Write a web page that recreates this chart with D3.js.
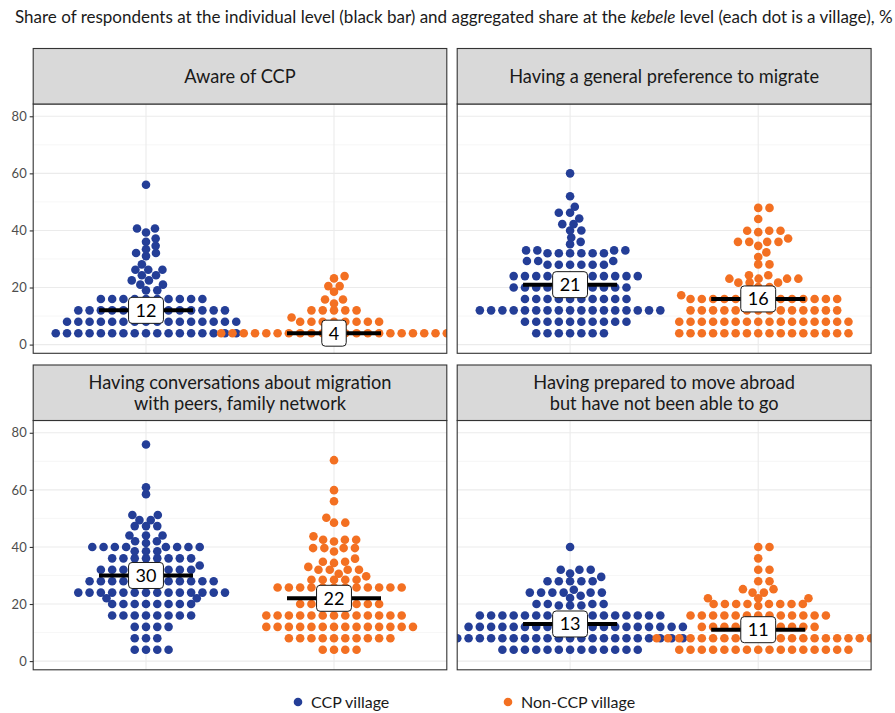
<!DOCTYPE html>
<html>
<head>
<meta charset="utf-8">
<script src="https://cdn.jsdelivr.net/npm/d3@7"></script>
<style>
  body { margin: 0; background: #ffffff; }
  svg { display: block; }
  text { font-family: Lato, "Open Sans", "DejaVu Sans", sans-serif; }
</style>
</head>
<body>
<svg id="chart" width="895" height="713"></svg>
<script>
// ---- data -------------------------------------------------------------
const groups = ["CCP village", "Non-CCP village"];
const groupColors = ["#243e97", "#f37022"];
const panelTitles = [
  ["Aware of CCP"],
  ["Having a general preference to migrate"],
  ["Having conversations about migration", "with peers, family network"],
  ["Having prepared to move abroad", "but have not been able to go"]
];
const yTicks = [0, 20, 40, 60, 80];
const yMinorTicks = [10, 30, 50, 70];
// share at the individual level (black bar), per panel: [CCP, Non-CCP]
const individualShare = [[12, 4], [21, 16], [30, 22], [13, 11]];

// village-level shares (%), one value per village
const awareCcp = [
  4,4,4,4,4,4,4,4,4,4,4,4,4,4,4,4,4,
  8,8,8,8,8,8,8,8,8,8,8,8,8,8,8,8,
  12,12,12,12,12,12,12,12,12,12,12,12,12,12,
  16,16,16,16,16,16,16,16,16,16,
  19,19,21,21,22.5,22.5,24.3,24.3,26.2,26.2,26.2,28.1,31,32.1,32.1,
  33.4,34.6,36,37.2,39.3,40.7,40.7,56
];
const awareNonCcp = [
  4,4,4,4,4,4,4,4,4,4,4,4,4,4,4,4,4,4,4,4,4,
  8,8,8,8,8,8,8,8,9.5,
  12,12,12,12,12,14.4,15.8,15.8,18.5,20.5,20.5,23.2,24
];
const preferCcp = [
  4,4,4,4,4,4,4,
  8,8,8,8,8,8,8,8,8,8,
  12,12,12,12,12,12,12,12,12,12,12,12,12,12,12,12,12,
  16,16,16,16,16,16,16,16,16,16,
  20,20,20,20,20,20,20,20,20,20,20,
  24,24,24,24,24,24,24,24,24,24,24,24,
  28,28,28,28,28,28,29.3,29.3,29.3,
  32,32,32,32,32,32,33,33,33,33,
  35.2,36,37.5,40,40,42.2,42.2,44.2,46.2,46.2,48.3,52,60
];
const preferNonCcp = [
  4,4,4,4,4,4,4,4,4,4,4,4,4,4,4,4,
  8,8,8,8,8,8,8,8,8,8,8,8,8,8,8,8,
  12,12,12,12,12,12,12,12,12,12,12,12,12,12,
  16,16,16,16,16,16,16,16,16,16,16,16,16,16,17.3,
  20.2,20.2,21.7,21.7,21.7,23.1,23.1,23.1,23.1,24.3,24.3,
  28.1,28.1,30.7,32.3,34.6,36,36,36,36,37.2,39.4,39.9,39.9,39.9,44,47.9,47.9
];
const talkCcp = [
  4,4,4,4,
  8,8,8,
  12,12,12,12,
  16,16,16,16,16,16,16,16,
  20,20,20,20,20,20,20,20,22,22,
  24,24,24,24,24,24,24,24,24,24,24,24,24,24,
  28,28,28,28,28,28,28,28,28,28,28,28,
  32,32,32,32,32,32,32,32,32,33.5,
  36,36,36,36,36,36,36,36,38.5,38.5,38.5,
  40,40,40,40,40,40,40,40,41.4,
  42,42,44,44,44,47.3,47.3,47.3,49.4,49.4,51.2,51.2,58.5,60.9,75.9
];
const talkNonCcp = [
  4,4,4,4,
  8,8,8,8,8,8,8,8,8,8,
  12,12,12,12,12,12,12,12,12,12,12,12,12,12,
  16,16,16,16,16,16,16,16,16,16,16,16,16,
  20,20,20,20,20,20,20,20,
  25.8,25.8,25.8,25.8,25.8,25.8,25.8,25.8,25.8,25.8,25.8,25.8,
  28.5,28.5,28.5,28.5,28.5,29.7,30.6,32,32,32,32,33,34.4,34.8,34.8,35.9,
  38.4,39.6,39.6,39.6,39.6,41.9,42.5,42.5,42.5,43.7,48.5,48.5,50.2,56,59.9,70.4
];
const prepareCcp = [
  4,4,4,4,4,4,4,4,4,4,4,4,4,
  8,8,8,8,8,8,8,8,8,8,8,8,8,8,8,8,8,8,8,8,8,
  12,12,12,12,12,12,12,12,12,12,12,12,12,12,12,12,12,12,12,12,
  16,16,16,16,16,16,16,16,16,16,16,16,16,16,16,16,16,
  19.5,19.5,19.5,20,20,20,20,22.1,22.9,
  24,24,24,24,24,24,25,28,28,28,28,28,29.5,30.7,32,32,32,40
];
const prepareNonCcp = [
  4,4,4,4,4,4,4,4,4,4,4,4,4,4,4,4,
  8,8,8,8,8,8,8,8,8,8,8,8,8,8,8,8,8,8,8,8,
  12,12,12,12,12,12,12,12,12,12,12,
  16,16,16,16,16,16,16,16,16,16,16,16,16,
  19.3,20,20,20,20,20,20,20,20,
  22,22,22,24,24,25.2,25.2,28,28,32,32,36,40,40
];

const panelValues = [
  [awareCcp, awareNonCcp],
  [preferCcp, preferNonCcp],
  [talkCcp, talkNonCcp],
  [prepareCcp, prepareNonCcp]
];

// ---- layout -------------------------------------------------------------
const svg = d3.select("#chart");
const colX = [[33.2, 446.8], [457.2, 871.1]];
const rowStrip = [[48.5, 104], [365, 420.5]];
const rowPanel = [[104, 353.3], [420.5, 669.8]];
const yDomain = [-3.05, 84.3];

const dotR = 4.3;
const swarmDx = 11.28;   // horizontal spacing of tied points
const swarmDy = 6.6;     // vertical reach of a point in the swarm

// beeswarm placement: ascending order, each point at the closest free offset
function swarm(values, y) {
  const pts = values.map((v, i) => ({ v, i, py: y(v) }))
    .sort((a, b) => a.v - b.v || a.i - b.i);
  const placed = [];
  for (const p of pts) {
    const near = placed.filter(q => Math.abs(q.py - p.py) < swarmDy);
    const offs = near.map(q => swarmDx * Math.sqrt(1 - ((q.py - p.py) / swarmDy) ** 2));
    const cands = [0]
      .concat(near.map((q, k) => q.off + offs[k]))
      .concat(near.map((q, k) => q.off - offs[k]));
    let best = null;
    for (const c of cands) {
      if (best !== null && Math.abs(c) >= Math.abs(best) - 1e-9) continue;
      const free = near.every(q =>
        ((q.off - c) / swarmDx) ** 2 + ((q.py - p.py) / swarmDy) ** 2 >= 1 - 1e-6);
      if (free) best = c;
    }
    p.off = best;
    placed.push(p);
  }
  return pts;
}

// title
const title = svg.append("text")
  .attr("x", 15).attr("y", 23)
  .attr("font-size", 14.5).attr("fill", "#1a1a1a");
title.append("tspan").text("Share of respondents at the individual level (black bar) and aggregated share at the ");
title.append("tspan").attr("font-style", "italic").text("kebele");
title.append("tspan").text(" level (each dot is a village), %");
{
  const w = title.node().getComputedTextLength();
  title.attr("font-size", 14.5 * 878 / w);
}

// strip font size fitted on the longest single-line label
const probe = svg.append("text").attr("font-size", 17).text(panelTitles[1][0]);
const stripFont = 17 * 310 / probe.node().getComputedTextLength();
probe.remove();

const defs = svg.append("defs");

panelValues.forEach((vals, p) => {
  const r = Math.floor(p / 2), c = p % 2;
  const [x0, x1] = colX[c];
  const [py0, py1] = rowPanel[r];
  const [sy0, sy1] = rowStrip[r];

  const x = d3.scalePoint().domain(groups).range([x0, x1]).padding(0.6);
  const y = d3.scaleLinear().domain(yDomain).range([py1, py0]);

  const g = svg.append("g");

  // panel background and grid
  g.append("rect").attr("x", x0).attr("y", py0).attr("width", x1 - x0).attr("height", py1 - py0)
    .attr("fill", "#ffffff");
  g.selectAll(".minor").data(yMinorTicks).join("line")
    .attr("x1", x0).attr("x2", x1).attr("y1", d => y(d)).attr("y2", d => y(d))
    .attr("stroke", "#f0f0f0").attr("stroke-width", 0.6);
  g.selectAll(".major").data(yTicks).join("line")
    .attr("x1", x0).attr("x2", x1).attr("y1", d => y(d)).attr("y2", d => y(d))
    .attr("stroke", "#ebebeb").attr("stroke-width", 1.1);
  g.selectAll(".vgrid").data(groups).join("line")
    .attr("x1", d => x(d)).attr("x2", d => x(d)).attr("y1", py0).attr("y2", py1)
    .attr("stroke", "#ebebeb").attr("stroke-width", 1.1);

  // dots, clipped to the panel
  const clipId = "clip" + p;
  defs.append("clipPath").attr("id", clipId).append("rect")
    .attr("x", x0).attr("y", py0).attr("width", x1 - x0).attr("height", py1 - py0);
  const dots = g.append("g").attr("clip-path", `url(#${clipId})`);
  vals.forEach((arr, gi) => {
    const pts = swarm(arr, y);
    dots.append("g").selectAll("circle").data(pts).join("circle")
      .attr("cx", d => x(groups[gi]) + d.off)
      .attr("cy", d => d.py)
      .attr("r", dotR)
      .attr("fill", groupColors[gi]);
  });

  // individual-level share: black bar with a value label
  const halfBar = x.step() * 0.25;
  individualShare[p].forEach((v, gi) => {
    const cx = x(groups[gi]);
    g.append("line")
      .attr("x1", cx - halfBar).attr("x2", cx + halfBar)
      .attr("y1", y(v)).attr("y2", y(v))
      .attr("stroke", "#000").attr("stroke-width", 4);
    const lbl = g.append("g");
    const t = lbl.append("text")
      .attr("x", cx).attr("y", y(v)).attr("dy", "0.36em")
      .attr("text-anchor", "middle").attr("font-size", 18).attr("fill", "#000")
      .text(v);
    const tw = t.node().getComputedTextLength();
    lbl.insert("rect", "text")
      .attr("x", cx - tw / 2 - 7).attr("y", y(v) - 13)
      .attr("width", tw + 14).attr("height", 26)
      .attr("rx", 3.5).attr("ry", 3.5)
      .attr("fill", "#fff").attr("stroke", "#1a1a1a").attr("stroke-width", 1);
  });

  // panel border
  g.append("rect").attr("x", x0).attr("y", py0).attr("width", x1 - x0).attr("height", py1 - py0)
    .attr("fill", "none").attr("stroke", "#333333").attr("stroke-width", 1.1);

  // strip
  g.append("rect").attr("x", x0).attr("y", sy0).attr("width", x1 - x0).attr("height", sy1 - sy0)
    .attr("fill", "#d9d9d9").attr("stroke", "#333333").attr("stroke-width", 1.1);
  const lines = panelTitles[p];
  const lh = 21;
  const midY = (sy0 + sy1) / 2;
  lines.forEach((ln, k) => {
    g.append("text")
      .attr("x", (x0 + x1) / 2)
      .attr("y", midY + (k - (lines.length - 1) / 2) * lh)
      .attr("dy", "0.35em")
      .attr("text-anchor", "middle")
      .attr("font-size", stripFont)
      .attr("fill", "#1a1a1a")
      .text(ln);
  });

  // y axis on the left column
  if (c === 0) {
    const axis = d3.axisLeft(y).tickValues(yTicks).tickSize(3.5).tickPadding(3);
    const ag = svg.append("g").attr("transform", `translate(${x0},0)`).call(axis);
    ag.select(".domain").remove();
    ag.selectAll(".tick line").attr("stroke", "#333333").attr("stroke-width", 1.1);
    ag.selectAll(".tick text")
      .attr("font-size", 13).attr("fill", "#4d4d4d")
      .style("font-family", "Lato, 'Open Sans', sans-serif");
  }
});

// legend
const legendItems = [
  { label: groups[0], color: groupColors[0], x: 298 },
  { label: groups[1], color: groupColors[1], x: 508 }
];
const lg = svg.append("g");
legendItems.forEach(it => {
  lg.append("circle").attr("cx", it.x).attr("cy", 702).attr("r", 4.3).attr("fill", it.color);
  lg.append("text").attr("x", it.x + 13).attr("y", 702).attr("dy", "0.35em")
    .attr("font-size", 16).attr("fill", "#1a1a1a").text(it.label);
});
</script>
</body>
</html>
